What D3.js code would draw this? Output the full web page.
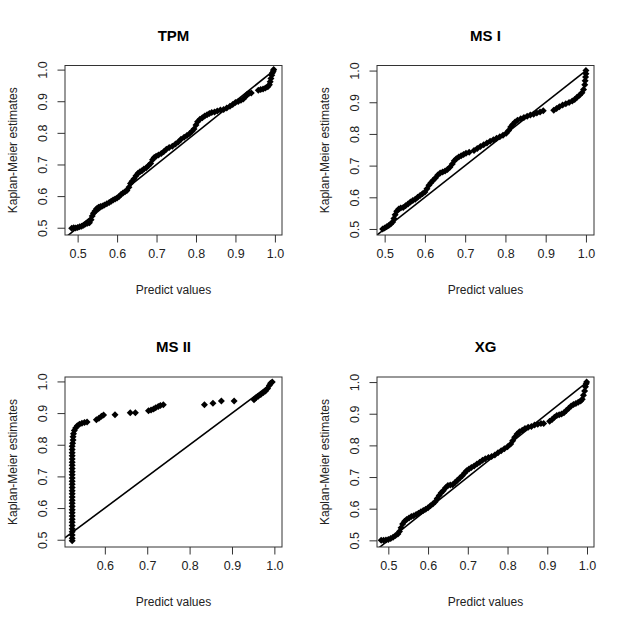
<!DOCTYPE html>
<html><head><meta charset="utf-8">
<script src="https://cdn.jsdelivr.net/npm/d3@7"></script>
<style>html,body{margin:0;padding:0;background:#fff}svg{display:block}</style>
</head><body>
<svg id="chart" width="628" height="628"></svg>
<script>
const panelTitles = ["TPM", "MS I", "MS II", "XG"];
const xTickValues = [[0.5,0.6,0.7,0.8,0.9,1.0],[0.5,0.6,0.7,0.8,0.9,1.0],[0.6,0.7,0.8,0.9,1.0],[0.5,0.6,0.7,0.8,0.9,1.0]];
const yTickValues = [0.5,0.6,0.7,0.8,0.9,1.0];
const xDomains = [[0.468,1.018],[0.481,1.020],[0.506,1.018],[0.4715,1.0176]];
const yDomains = [[0.477,1.013],[0.481,1.016],[0.477,1.014],[0.479,1.016]];

const tpmX = [0.485,0.490,0.495,0.500,0.505,0.510,0.515,0.520,0.525,0.530,0.534,0.537,0.540,0.544,0.548,0.553,0.558,0.563,0.568,0.574,0.580,0.585,0.590,0.595,0.600,0.605,0.610,0.615,0.620,0.625,0.630,0.634,0.638,0.643,0.648,0.653,0.658,0.663,0.668,0.674,0.680,0.685,0.690,0.694,0.699,0.705,0.712,0.718,0.725,0.732,0.740,0.748,0.755,0.762,0.770,0.777,0.784,0.790,0.795,0.800,0.804,0.810,0.816,0.822,0.828,0.834,0.840,0.847,0.854,0.862,0.870,0.878,0.886,0.893,0.900,0.907,0.914,0.920,0.926,0.930,0.935,0.940,0.958,0.964,0.970,0.976,0.982,0.986,0.988,0.990,0.992,0.994,0.996,0.997];
const tpmY = [0.498,0.500,0.499,0.501,0.503,0.505,0.508,0.512,0.514,0.516,0.525,0.537,0.546,0.553,0.560,0.565,0.567,0.569,0.572,0.576,0.580,0.584,0.588,0.591,0.594,0.599,0.605,0.610,0.614,0.618,0.628,0.640,0.647,0.655,0.664,0.672,0.677,0.680,0.686,0.690,0.697,0.703,0.715,0.722,0.726,0.730,0.735,0.740,0.748,0.754,0.758,0.765,0.771,0.780,0.786,0.792,0.798,0.805,0.812,0.825,0.835,0.843,0.848,0.853,0.857,0.861,0.864,0.866,0.869,0.872,0.874,0.879,0.884,0.890,0.896,0.899,0.903,0.907,0.915,0.922,0.925,0.926,0.935,0.937,0.939,0.942,0.946,0.952,0.962,0.972,0.982,0.990,0.996,1.000];

const ms1X = [0.495,0.500,0.505,0.510,0.515,0.520,0.523,0.526,0.530,0.535,0.540,0.546,0.552,0.558,0.564,0.570,0.576,0.582,0.588,0.594,0.600,0.605,0.610,0.615,0.620,0.626,0.632,0.638,0.644,0.650,0.656,0.662,0.668,0.673,0.678,0.684,0.690,0.696,0.702,0.710,0.722,0.730,0.738,0.746,0.754,0.762,0.770,0.778,0.786,0.794,0.802,0.808,0.813,0.818,0.824,0.830,0.838,0.846,0.854,0.862,0.870,0.878,0.886,0.894,0.920,0.927,0.934,0.942,0.950,0.958,0.966,0.972,0.978,0.984,0.990,0.994,0.997,0.998,0.999,1.000,1.000];
const ms1Y = [0.500,0.503,0.507,0.511,0.516,0.522,0.533,0.545,0.556,0.563,0.566,0.568,0.573,0.579,0.585,0.590,0.594,0.600,0.606,0.611,0.617,0.627,0.638,0.646,0.653,0.661,0.670,0.677,0.680,0.683,0.688,0.695,0.705,0.715,0.722,0.727,0.731,0.735,0.739,0.742,0.748,0.754,0.760,0.766,0.771,0.777,0.782,0.786,0.791,0.796,0.802,0.811,0.822,0.830,0.838,0.843,0.848,0.852,0.856,0.860,0.862,0.866,0.869,0.873,0.875,0.880,0.886,0.891,0.895,0.899,0.904,0.909,0.916,0.922,0.930,0.940,0.955,0.968,0.980,0.990,1.000];

const ms2X = [0.523,0.523,0.523,0.523,0.523,0.523,0.523,0.523,0.523,0.523,0.523,0.523,0.523,0.523,0.523,0.523,0.523,0.523,0.523,0.523,0.523,0.523,0.523,0.523,0.523,0.523,0.523,0.523,0.523,0.523,0.523,0.524,0.525,0.525,0.526,0.528,0.531,0.535,0.540,0.546,0.552,0.558,0.580,0.586,0.592,0.597,0.624,0.660,0.672,0.703,0.709,0.715,0.720,0.726,0.731,0.738,0.835,0.855,0.875,0.905,0.952,0.956,0.962,0.968,0.974,0.979,0.984,0.988,0.991,0.995];
const ms2Y = [0.497,0.505,0.515,0.525,0.535,0.545,0.555,0.565,0.575,0.585,0.595,0.605,0.615,0.625,0.635,0.645,0.655,0.665,0.675,0.685,0.695,0.705,0.715,0.725,0.735,0.745,0.755,0.765,0.775,0.785,0.795,0.805,0.815,0.825,0.835,0.845,0.853,0.860,0.865,0.868,0.870,0.872,0.879,0.884,0.890,0.894,0.895,0.901,0.901,0.907,0.910,0.913,0.917,0.921,0.924,0.926,0.926,0.931,0.938,0.938,0.942,0.948,0.953,0.959,0.965,0.970,0.978,0.987,0.994,0.998];

const xgX = [0.482,0.488,0.494,0.500,0.506,0.512,0.518,0.524,0.528,0.532,0.536,0.541,0.546,0.552,0.558,0.564,0.570,0.576,0.582,0.588,0.594,0.600,0.606,0.612,0.618,0.623,0.628,0.633,0.638,0.644,0.650,0.656,0.662,0.668,0.674,0.680,0.686,0.692,0.697,0.703,0.709,0.716,0.723,0.730,0.737,0.744,0.752,0.760,0.768,0.776,0.784,0.792,0.800,0.808,0.813,0.818,0.824,0.830,0.837,0.844,0.852,0.860,0.868,0.876,0.884,0.891,0.906,0.912,0.918,0.924,0.930,0.936,0.942,0.948,0.954,0.960,0.966,0.972,0.978,0.984,0.988,0.991,0.994,0.996,0.998,0.999];
const xgY = [0.500,0.500,0.501,0.503,0.506,0.510,0.515,0.520,0.528,0.540,0.552,0.560,0.566,0.571,0.575,0.578,0.582,0.586,0.590,0.594,0.598,0.603,0.609,0.615,0.622,0.632,0.642,0.650,0.657,0.666,0.673,0.675,0.676,0.683,0.690,0.697,0.704,0.713,0.720,0.725,0.730,0.735,0.741,0.747,0.753,0.758,0.762,0.765,0.770,0.777,0.783,0.789,0.796,0.804,0.815,0.826,0.836,0.843,0.848,0.853,0.857,0.860,0.864,0.867,0.869,0.869,0.876,0.882,0.889,0.894,0.897,0.899,0.903,0.910,0.917,0.924,0.929,0.932,0.936,0.940,0.946,0.958,0.972,0.985,0.995,1.000];

const seriesX = [tpmX, ms1X, ms2X, xgX];
const seriesY = [tpmY, ms1Y, ms2Y, xgY];

const boxes = [
  {l:65, r:282, t:65.5, b:235},
  {l:377, r:594, t:65.5, b:235},
  {l:65, r:282, t:377, b:547},
  {l:377, r:594, t:377, b:547}
];

const svg = d3.select("#chart");
svg.append("rect").attr("width",628).attr("height",628).attr("fill","#fff");
const font = "Arial, 'Liberation Sans', Helvetica, sans-serif";
const diamond = "M0,-3.5L3.5,0L0,3.5L-3.5,0Z";

boxes.forEach((bx, i) => {
  const x = d3.scaleLinear().domain(xDomains[i]).range([bx.l, bx.r]);
  const y = d3.scaleLinear().domain(yDomains[i]).range([bx.b, bx.t]);
  const g = svg.append("g");
  const clipId = "clip" + i;
  g.append("clipPath").attr("id", clipId).append("rect")
    .attr("x", bx.l).attr("y", bx.t).attr("width", bx.r - bx.l).attr("height", bx.b - bx.t);

  // diagonal reference line
  g.append("line").attr("clip-path", `url(#${clipId})`)
    .attr("x1", x(0)).attr("y1", y(0)).attr("x2", x(1)).attr("y2", y(1))
    .attr("stroke", "#000").attr("stroke-width", 1.6);

  // points
  const pts = seriesX[i].map((v, k) => [v, seriesY[i][k]]);
  g.selectAll("path.pt").data(pts).enter().append("path")
    .attr("class","pt").attr("d", diamond)
    .attr("transform", d => `translate(${x(d[0])},${y(d[1])})`)
    .attr("fill", "#000");

  // axes
  const xAxis = d3.axisBottom(x).tickValues(xTickValues[i]).tickSize(7.5).tickPadding(7).tickFormat(d3.format(".1f"));
  const yAxis = d3.axisLeft(y).tickValues(yTickValues).tickSize(7.5).tickPadding(7).tickFormat(d3.format(".1f"));
  const gx = g.append("g").attr("transform", `translate(0,${bx.b})`).call(xAxis);
  const gy = g.append("g").attr("transform", `translate(${bx.l},0)`).call(yAxis);
  [gx, gy].forEach(a => {
    a.select(".domain").remove();
    a.selectAll("line").attr("stroke", "#333").attr("stroke-width", 1);
    a.selectAll("text").attr("font-family", font).attr("font-size", 12.5).attr("fill", "#222");
  });
  gx.selectAll("text").attr("y", 14).attr("dy", "0.71em");
  gy.selectAll("text").attr("text-anchor", "middle")
    .attr("x", 0).attr("y", 0).attr("dy", 0)
    .attr("dominant-baseline", "central")
    .attr("transform", "translate(-22.5,0) rotate(-90)");

  // box
  g.append("rect").attr("x", bx.l).attr("y", bx.t).attr("width", bx.r - bx.l).attr("height", bx.b - bx.t)
    .attr("fill", "none").attr("stroke", "#333").attr("stroke-width", 1);

  // title
  g.append("text").attr("x", (bx.l + bx.r) / 2).attr("y", bx.t - 25)
    .attr("text-anchor", "middle").attr("font-family", font).attr("font-weight", "bold")
    .attr("font-size", 15).attr("fill", "#000").text(panelTitles[i]);

  // x label
  g.append("text").attr("x", (bx.l + bx.r) / 2).attr("y", bx.b + 59)
    .attr("text-anchor", "middle").attr("font-family", font)
    .attr("font-size", 12).attr("fill", "#222").text("Predict values");

  // y label
  g.append("text").attr("transform", `translate(${bx.l - 52},${(bx.t + bx.b) / 2}) rotate(-90)`)
    .attr("text-anchor", "middle").attr("dominant-baseline", "central").attr("font-family", font)
    .attr("font-size", 12).attr("fill", "#222").text("Kaplan-Meier estimates");
});
</script>
</body></html>
